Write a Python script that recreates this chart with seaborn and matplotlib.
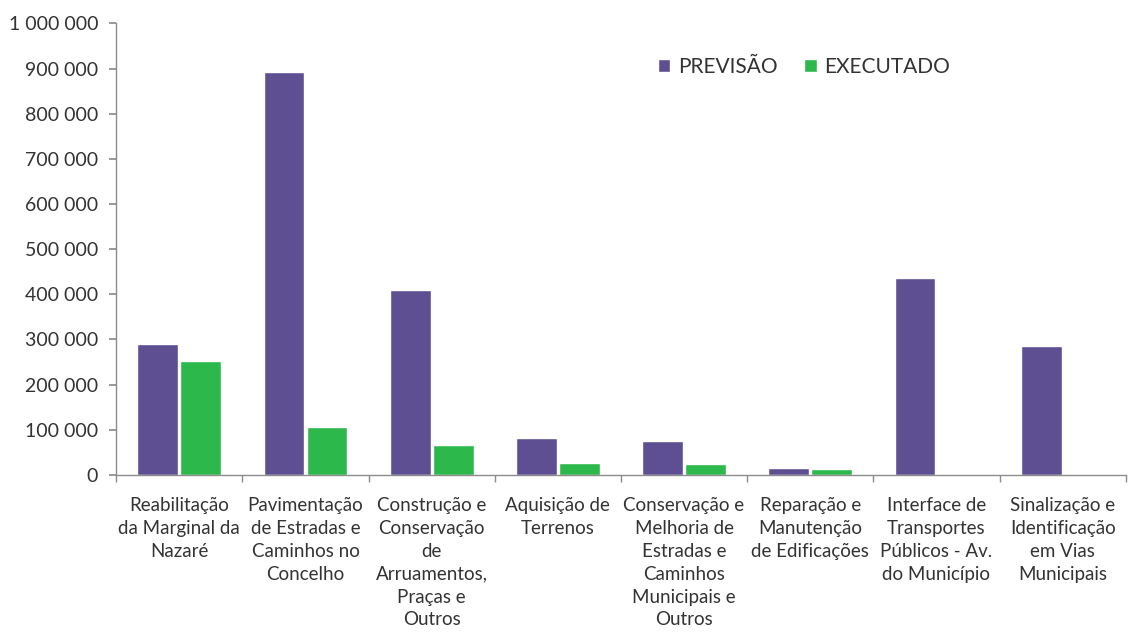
"""Bar chart: PREVISÃO vs EXECUTADO by project."""

import matplotlib
matplotlib.use("Agg")
import matplotlib.pyplot as plt
import matplotlib.ticker as mticker
import pandas as pd
import seaborn as sns

CATEGORIES = [
    "Reabilitação\nda Marginal da\nNazaré",
    "Pavimentação\nde Estradas e\nCaminhos no\nConcelho",
    "Construção e\nConservação\nde\nArruamentos,\nPraças e\nOutros",
    "Aquisição de\nTerrenos",
    "Conservação e\nMelhoria de\nEstradas e\nCaminhos\nMunicipais e\nOutros",
    "Reparação e\nManutenção\nde Edificações",
    "Interface de\nTransportes\nPúblicos - Av.\ndo Município",
    "Sinalização e\nIdentificação\nem Vias\nMunicipais",
]
PREVISAO = [291000, 892000, 409000, 82000, 76000, 15000, 436000, 285000]
EXECUTADO = [252000, 107000, 67000, 27000, 24000, 13000, 3000, 2000]
SERIES = ["PREVISÃO", "EXECUTADO"]
COLORS = {"PREVISÃO": "#5E4F92", "EXECUTADO": "#2DB84C"}
AXIS_GREY = "#8C8C8C"
TEXT = "#333333"

sns.set_theme(style="white")
plt.rcParams["font.family"] = ["Lato", "DejaVu Sans"]

df = pd.DataFrame(
    {
        "categoria": CATEGORIES * 2,
        "serie": [SERIES[0]] * len(CATEGORIES) + [SERIES[1]] * len(CATEGORIES),
        "valor": PREVISAO + EXECUTADO,
    }
)

fig = plt.figure(figsize=(11.28, 6.34), dpi=100)
ax = fig.add_axes([0.103, 0.251, 0.895, 0.712])

sns.barplot(
    data=df,
    x="categoria",
    y="valor",
    hue="serie",
    palette=COLORS,
    width=0.68,
    gap=0.05,
    saturation=1,
    ax=ax,
)

ax.set_ylim(0, 1000000)
ax.set_xlim(-0.5, len(CATEGORIES) - 0.5)
ax.yaxis.set_major_locator(mticker.MultipleLocator(100000))
ax.yaxis.set_major_formatter(
    mticker.FuncFormatter(lambda v, _: f"{int(v):,}".replace(",", " "))
)
ax.set_xlabel("")
ax.set_ylabel("")

# category boundaries get the tick marks, labels stay centred
ax.set_xticks([i + 0.5 for i in range(-1, len(CATEGORIES))], minor=True)
ax.tick_params(axis="x", which="major", length=0, pad=16, labelsize=13.5, colors=TEXT)
ax.tick_params(axis="x", which="minor", length=5, color=AXIS_GREY, bottom=True)
ax.tick_params(axis="y", length=5, color=AXIS_GREY, labelsize=14, colors=TEXT,
               left=True, pad=8)
for lbl in ax.get_xticklabels():
    lbl.set_linespacing(1.42)

sns.despine(ax=ax)
for side in ("left", "bottom"):
    ax.spines[side].set_color(AXIS_GREY)
    ax.spines[side].set_linewidth(1.0)

ax.legend(
    loc="upper left",
    bbox_to_anchor=(0.518, 0.968),
    ncol=2,
    frameon=False,
    fontsize=15,
    handlelength=0.6,
    handleheight=0.6,
    handletextpad=0.35,
    columnspacing=1.3,
    labelcolor=TEXT,
)

fig.savefig("out.png", dpi=100)
